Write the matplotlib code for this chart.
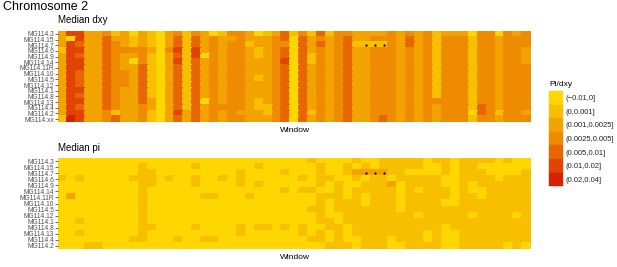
import numpy as np
import matplotlib.pyplot as plt
from matplotlib.colors import ListedColormap, BoundaryNorm
from matplotlib.patches import Patch

plt.rcParams['font.family'] = ['Liberation Sans', 'DejaVu Sans']

# samples (rows, top to bottom)
dxy_samples = ["MG114.3", "MG114.15", "MG114.7", "MG114.6", "MG114.9", "MG114.14",
               "MG114.11R", "MG114.10", "MG114.5", "MG114.12", "MG114.1", "MG114.8",
               "MG114.13", "MG114.4", "MG114.2", "MG114.xx"]
pi_samples = dxy_samples[:-1]

# binned value classes
bin_labels = ["(\u22120.01,0]", "(0,0.001]", "(0.001,0.0025]", "(0.0025,0.005]",
              "(0.005,0.01]", "(0.01,0.02]", "(0.02,0.04]"]
bin_colors = ["#FFD700", "#F8BE00", "#F2A300", "#EE8B00", "#E86600", "#E04400", "#D62200"]

# median dxy class per window (one string per window, one digit per sample)
dxy_windows = [
    "2221222222222221", "5055555555555556", "5545455444545455", "2222222222222222",
    "2222222222222222", "3444444444444433", "1233333333333314", "2223222333222222",
    "0113202222222222", "2223334444444333", "1112111111112211", "0000000000000000",
    "2223222222222222", "3445454444444454", "1111111111111122", "3445544444444444",
    "2222022222220222", "0333333333333333", "1222222222222322", "3233333333333333",
    "3333333333333323", "2212222222222222", "0221122212221122", "1222222222222112",
    "2333333333333333", "4434454444444444", "1000000000000000", "3444444444444444",
    "1222112222222212", "4343333333333333", "1222222222222222", "3333333333333333",
    "3444444444444444", "2212222222222222", "2212222222222222", "2313333333333333",
    "2313333333333334", "3333333333333333", "2222222222222222", "3443333333333333",
    "2222222222222222", "3333333333333333", "1111111111113222", "2333333333333333",
    "2333333333333333", "2333333333333333", "0111111111111101", "3333333333333443",
    "3333333333333333", "0222222222222212", "3333333333333333", "2333333333333333",
    "3332223333333323",
]

# median pi class per window
pi_windows = [
    "000100000000000", "000000200000000", "000100000010100", "000000000000001",
    "000000000000001", "000000000000000", "000000000000000", "000000000000000",
    "000100000000010", "011111111111110", "001110000001000", "000000000000000",
    "000100000000000", "000000000000010", "000000000000000", "010110000001000",
    "000000100000010", "000000100000010", "000100000000000", "000000000000000",
    "001110000001100", "000000100000000", "010010000001000", "000000000001000",
    "000000000000000", "001001000001000", "000000000000000", "000101000001100",
    "100001001000010", "011110111110110", "000100100011001", "000011111001111",
    "011000011110001", "102101111111100", "012011001111111", "002111111111111",
    "112111111111111", "111021111111100", "111100000111110", "110111111111111",
    "110110111011111", "000111111111001", "100111111111111", "111001101110000",
    "000000001111000", "111111111111111", "111100111011111", "101110011111111",
    "100111111111111", "000011111111111", "100111111111110", "000111111011111",
    "001111111111110",
]

marked_windows = [35, 36, 37]
marked_sample = "MG114.7"


def to_matrix(cols):
    return np.array([[int(ch) for ch in c] for c in cols]).T


cmap = ListedColormap(bin_colors)
norm = BoundaryNorm(np.arange(-0.5, len(bin_colors) + 0.5), cmap.N)

fig = plt.figure(figsize=(6.17, 2.67), dpi=100)
ax_top = fig.add_axes([0.0948, 0.5431, 0.7661, 0.3408])
ax_bot = fig.add_axes([0.0948, 0.0674, 0.7661, 0.3408])

for ax, cols, samples, title in [(ax_top, dxy_windows, dxy_samples, "Median dxy"),
                                 (ax_bot, pi_windows, pi_samples, "Median pi")]:
    mat = to_matrix(cols)
    nwin = mat.shape[1]
    x = np.arange(0.5, nwin + 1)
    y = np.arange(-0.5, len(samples))
    ax.pcolormesh(x, y, mat, cmap=cmap, norm=norm, edgecolors='face', linewidth=0.2)
    ax.set_xlim(0.5, nwin + 0.5)
    ax.set_ylim(len(samples) - 0.5, -0.5)
    ax.set_yticks(range(len(samples)))
    ax.set_yticklabels(samples)
    ax.set_xticks([])
    ax.tick_params(axis='y', length=2, width=0.5, color='#333333', pad=1,
                   labelsize=4.8, labelcolor='#4D4D4D')
    for s in ax.spines.values():
        s.set_visible(False)
    ax.set_xlabel("Window", fontsize=6, labelpad=3.5)
    yi = samples.index(marked_sample)
    ax.plot(marked_windows, [yi] * len(marked_windows), 'o', color='black',
            ms=1.6, mec='none')

fig.text(0.005, 1 - 10.3 / 267, "Chromosome 2", fontsize=9, va='baseline')
fig.text(0.094, 1 - 23 / 267, "Median dxy", fontsize=7, va='baseline')
fig.text(0.094, 1 - 151.3 / 267, "Median pi", fontsize=7, va='baseline')

fig.text(549 / 617, 1 - 85 / 267, "Pi/dxy", fontsize=6, va='center')
handles = [Patch(facecolor=c, edgecolor=c, linewidth=0.3) for c in bin_colors]
fig.legend(handles, bin_labels, loc='upper left', bbox_to_anchor=(549 / 617, 1 - 91 / 267),
           frameon=False, fontsize=5.5, borderpad=0, borderaxespad=0,
           handlelength=1.79, handleheight=2.36, labelspacing=0, handletextpad=0.4,
           labelcolor='#222222')

fig.savefig("out.png", dpi=100)
